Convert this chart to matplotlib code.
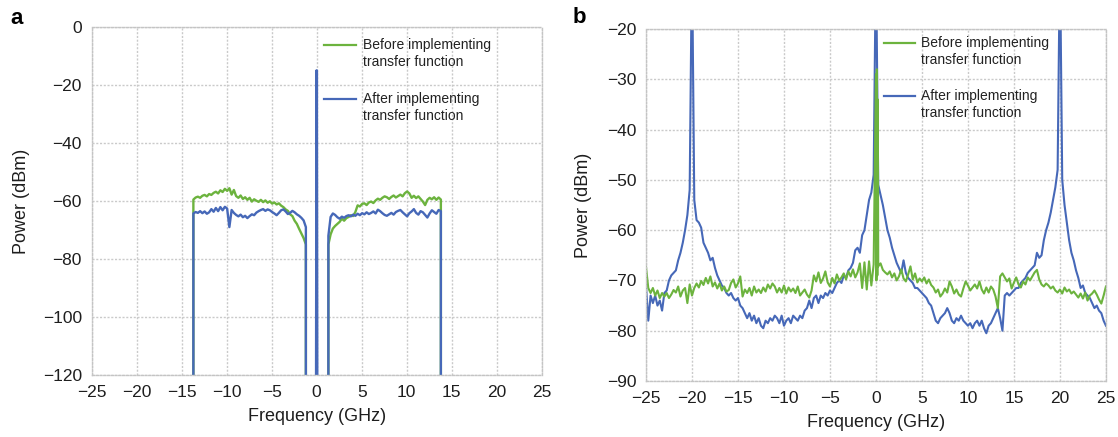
import numpy as np
import matplotlib
matplotlib.use("Agg")
import matplotlib.pyplot as plt

plt.rcParams['font.family'] = ['Liberation Sans', 'DejaVu Sans']

GREEN = '#6cb33e'
BLUE = '#4668b8'
FLOOR = -130

# ---- panel a : spectrum, two bands + carrier ----
band_left_f = np.linspace(-13.7, -1.2, 51)
band_right_f = np.linspace(1.3, 13.8, 51)

before_left = [
    -59.5, -58.8, -58.5, -58.9, -58.2, -57.9, -58.4, -57.6, -57.9, -57.2,
    -56.8, -57.4, -56.3, -56.9, -55.8, -56.5, -55.6, -57.8, -56.2, -58.3,
    -58.9, -58.1, -59.3, -58.7, -59.6, -58.9, -60.2, -59.4, -59.9, -60.3,
    -59.6, -60.4, -59.8, -60.6, -60.1, -60.9, -60.5, -61.2, -60.8, -61.6,
    -62.1, -62.9, -63.4, -64.6, -65.2, -66.8, -67.9, -69.6, -71.2, -72.8, -75.0,
]
after_left = [
    -64.3, -63.8, -64.1, -63.5, -64.2, -63.6, -64.4, -63.9, -62.8, -63.7,
    -62.4, -63.5, -62.1, -63.2, -62.0, -62.6, -69.0, -63.1, -64.1, -64.8,
    -65.3, -64.7, -65.6, -65.1, -65.9, -65.2, -64.6, -64.9, -64.0, -63.5,
    -63.1, -62.8, -63.4, -62.9, -63.2, -63.8, -64.3, -64.9, -64.1, -63.2,
    -62.9, -63.6, -64.5, -64.1, -63.4, -63.9, -64.6, -65.1, -65.8, -66.7, -69.0,
]
before_right = [
    -75.0, -71.5, -69.5, -68.6, -67.9, -67.2, -66.1, -66.8, -65.9, -65.5,
    -64.9, -65.2, -63.8, -61.5, -61.9, -61.0, -60.8, -61.4, -60.5, -60.2,
    -60.7, -59.8, -59.2, -59.6, -58.9, -58.4, -58.7, -59.3, -58.6, -58.1,
    -58.8, -58.3, -57.8, -58.4, -57.3, -56.7, -57.4, -58.9, -58.2, -59.0,
    -58.4, -59.3, -60.2, -61.4, -59.6, -58.9, -59.4, -58.7, -59.6, -58.8, -59.5,
]
after_right = [
    -72.0, -65.5, -64.3, -64.8, -65.6, -66.1, -65.4, -65.8, -65.2, -64.9,
    -65.3, -64.7, -65.1, -64.4, -64.9, -64.2, -64.6, -63.9, -64.5, -64.1,
    -63.6, -64.3, -63.0, -63.5, -64.2, -64.8, -65.1, -64.6, -64.1, -64.7,
    -63.8, -63.4, -63.1, -63.9, -64.6, -65.3, -64.2, -63.6, -62.8, -64.1,
    -64.7, -63.5, -63.9, -64.8, -65.7, -64.3, -63.2, -63.8, -64.4, -63.1, -63.5,
]
carrier_f = [-0.05, 0.0, 0.05]
carrier_p = [FLOOR, -15, FLOOR]

# ---- panel b : tones at -20, 0, 20 GHz ----
freq_b = np.linspace(-25, 25, 201)
after_b = [
    -71, -78, -73, -74.5, -73, -75, -74, -76, -72.5, -72, -70, -69, -68.5, -68, -66, -64.5, -62.5, -60, -57, -52,
    -5, -54, -58, -58.5, -59.5, -62.5, -63.5, -64.5, -66, -65.5, -67.5, -69, -70, -71, -71.5, -72.5, -73, -72.5, -73.5, -74,
    -73.5, -75, -75.5, -76.5, -77.5, -76.5, -78, -77, -78.5, -77.5, -79, -79.5, -78, -78.5, -77.5, -78, -77, -77.5, -78.5, -77,
    -79, -78, -77.5, -78.5, -77, -77.5, -78, -77, -77.5, -76, -75.5, -74, -75.5, -73.5, -73, -74.5, -73, -73.5, -72.5, -73,
    -72, -72.5, -71.5, -70.5, -70, -70.5, -69, -69.5, -68, -67.5, -66.5, -64, -63.5, -64.5, -61, -60, -57, -54, -52.5, -49,
    -5, -51, -53, -55, -57.5, -60, -61.5, -63.5, -65, -66.5, -67.5, -68.5, -66, -68.5, -69.5, -70, -70.5, -71.5, -71.5, -72,
    -72.5, -73, -73.5, -74.5, -75, -76.5, -78, -78.5, -77.5, -77, -76.5, -75.5, -76.5, -78, -78.5, -77.5, -78, -77, -78, -78.5,
    -79, -78.5, -79.5, -78.5, -78, -79, -78, -79.5, -80.5, -79, -78.5, -77.5, -76.5, -75.5, -77.5, -80, -73, -72.5, -73, -72.5,
    -72, -71.5, -71.5, -70.5, -70, -69.5, -68.5, -68, -67.5, -67, -64.5, -65.5, -65, -62, -60, -58.5, -56.5, -54, -51.5, -48,
    -5, -50, -55, -58.5, -62, -64.5, -66, -68, -69.5, -71.5, -71, -72.5, -73, -73.5, -74.5, -75.5, -75, -76, -76.5, -78,
    -79,
]
before_b = [
    -67.3, -71.5, -72.5, -71.5, -73, -72, -73.5, -72.5, -73.2, -72.5, -73.5, -72.8, -71.9, -72.4, -71.2, -73.2, -72, -71.5, -74.5, -70.8,
    -73, -71.5, -70.6, -71.4, -70.1, -70.9, -69.5, -70.6, -69.2, -71.2, -70.4, -71.6, -70.6, -72, -71.2, -72.2, -71.9, -70.5, -69.8, -71.4,
    -70.6, -69.2, -73.2, -71.8, -72.5, -71.5, -73, -71.2, -72.4, -71.8, -72.5, -71.4, -72.2, -70.8, -71.6, -70.6, -71.2, -72.4, -71.5, -72.4,
    -71, -72.6, -71.4, -72.2, -71.6, -72.5, -71.2, -73, -72.4, -71.8, -72.8, -73.4, -72, -69, -70.2, -68.4, -70.5, -69.6, -68.2, -70.4,
    -71.2, -69.5, -70.6, -68.8, -70, -69.4, -68.6, -69.8, -68.2, -69.2, -67.8, -69.4, -68.4, -66.6, -71.5, -66.4, -71.8, -66.2, -71, -66.8,
    -29, -67.2, -66.6, -67.9, -68.4, -68.8, -68.2, -69.4, -68.6, -70, -69.2, -67.8, -69.6, -70.2, -68.8, -67.2, -69.8, -68.6, -70.4, -69.6,
    -70.2, -69.4, -70.6, -69.8, -70.9, -71.4, -72.4, -71.8, -73.2, -72.6, -71.6, -72.4, -70.2, -71.2, -72.6, -71.8, -72.8, -73.2, -71.6, -70.2,
    -71, -72, -71.4, -70.8, -71.6, -70.2, -71.8, -72.6, -71.4, -72.4, -71.2, -71.8, -73.2, -75.5, -69.2, -68.6, -69.4, -70.2, -69.6, -71.6,
    -70.4, -69.4, -70.8, -71.4, -70.2, -70.8, -69.4, -70, -69.2, -68.4, -67.9, -69.8, -70.8, -71.2, -70.6, -71, -71.6, -71.2, -72, -72.4,
    -71.8, -72.6, -71.4, -72.2, -71.8, -72.6, -72.2, -72.8, -73.4, -72.6, -73.6, -72.4, -74, -73, -72.6, -72, -72.8, -73.8, -74.6, -73,
    -71.2,
]
# dense oscillation of the green trace right at the carrier
burst_f = [0.05, 0.1, 0.15, 0.2]
burst_p = [-70, -28, -69, -34]

label_before = ['Before implementing', 'transfer function']
label_after = ['After implementing', 'transfer function']


def band(f, p):
    f = np.asarray(f)
    return np.r_[f[0], f, f[-1]], np.r_[FLOOR, p, FLOOR]


def style(ax, ylim, yticks):
    ax.set_xlim(-25, 25)
    ax.set_ylim(*ylim)
    ax.set_xticks(np.arange(-25, 26, 5))
    ax.set_yticks(yticks)
    ax.grid(True, color='#cacaca', linestyle=(0, (1.5, 1.2)), linewidth=1.0)
    ax.set_axisbelow(True)
    for s in ax.spines.values():
        s.set_color('#c4c4c4')
        s.set_linestyle((0, (1.5, 1.2)))
        s.set_linewidth(1.0)
    ax.tick_params(length=0, pad=7, labelsize=12.5, labelcolor='#1e1e1e')
    ax.set_xlabel('Frequency (GHz)', fontsize=13, color='#1e1e1e')
    ax.set_ylabel('Power (dBm)', fontsize=13, color='#1e1e1e')


def legend(ax, x0, x1, xt, ys, dy):
    for y, col, lines in zip(ys, [GREEN, BLUE], [label_before, label_after]):
        ax.plot([x0, x1], [y, y], color=col, lw=1.6, transform=ax.transAxes, clip_on=False)
        for k, t in enumerate(lines):
            ax.text(xt, y - k * dy, t, transform=ax.transAxes, fontsize=10,
                    va='center', ha='left', color='#222222')


fig = plt.figure(figsize=(11.18, 4.37), dpi=100)
ax1 = fig.add_axes([0.0820, 0.1419, 0.4025, 0.7963])
ax2 = fig.add_axes([0.5778, 0.1281, 0.4114, 0.8055])

# panel a
for f, g in [(band_left_f, before_left), (band_right_f, before_right)]:
    x, y = band(f, g)
    ax1.plot(x, y, color=GREEN, lw=1.7)
for f, b in [(band_left_f, after_left), (band_right_f, after_right)]:
    x, y = band(f, b)
    ax1.plot(x, y, color=BLUE, lw=1.7)
ax1.plot(carrier_f, carrier_p, color=BLUE, lw=2.0)
style(ax1, (-120, 0), np.arange(-120, 1, 20))
ax1.yaxis.set_label_coords(-0.138, 0.5)
ax1.xaxis.set_label_coords(0.5, -0.095)
legend(ax1, 0.516, 0.587, 0.604, [0.948, 0.793], 0.049)

# panel b
fb = np.r_[freq_b, burst_f]
order = np.argsort(fb, kind='stable')
gb = np.r_[before_b, burst_p][order]
ax2.plot(freq_b, after_b, color=BLUE, lw=1.5)
ax2.plot(fb[order], gb, color=GREEN, lw=1.5)
style(ax2, (-90, -20), np.arange(-90, -19, 10))
ax2.yaxis.set_label_coords(-0.117, 0.5)
ax2.xaxis.set_label_coords(0.5, -0.094)
legend(ax2, 0.517, 0.584, 0.597, [0.96, 0.81], 0.048)

fig.text(0.009, 0.958, 'a', fontsize=16, fontweight='bold', va='center')
fig.text(0.512, 0.960, 'b', fontsize=16, fontweight='bold', va='center')

fig.savefig('out.png', dpi=100)
